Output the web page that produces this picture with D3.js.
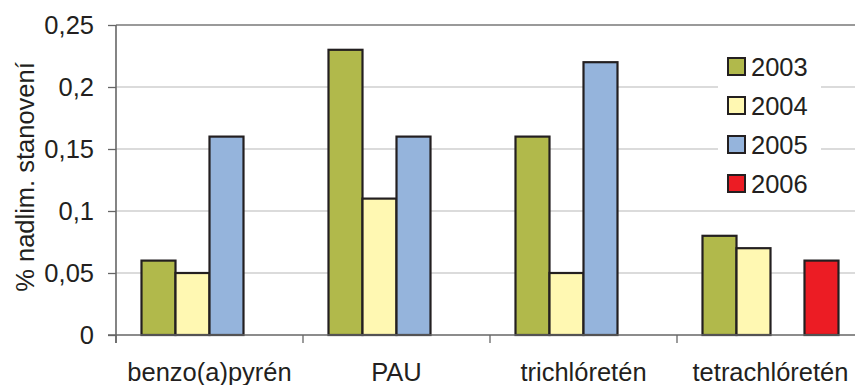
<!DOCTYPE html>
<html>
<head>
<meta charset="utf-8">
<script src="https://cdn.jsdelivr.net/npm/d3@7"></script>
<style>
  html, body { margin: 0; padding: 0; background: #fff; }
  svg { display: block; }
  text { font-family: "Liberation Sans", Arial, sans-serif; fill: #231f20; }
</style>
</head>
<body>
<svg id="chart" width="855" height="385"></svg>
<script>
const categories = ["benzo(a)pyrén", "PAU", "trichlóretén", "tetrachlóretén"];
const years = ["2003", "2004", "2005", "2006"];
const values2003 = [0.06, 0.23, 0.16, 0.08];
const values2004 = [0.05, 0.11, 0.05, 0.07];
const values2005 = [0.16, 0.16, 0.22, null];
const values2006 = [null, null, null, 0.06];
const yTicks = [0, 0.05, 0.1, 0.15, 0.2, 0.25];
const yTickLabels = ["0", "0,05", "0,1", "0,15", "0,2", "0,25"];
const colors = ["#b1b94b", "#fff8b2", "#95b4dc", "#ec1c24"];
const yTitle = "% nadlim. stanovení";

const seriesValues = [values2003, values2004, values2005, values2006];

const svg = d3.select("#chart");
const mLeft = 116, mRight = 864, mTop = 25, mBottom = 335;

const x0 = d3.scaleBand().domain(categories).range([mLeft, mRight]).padding(0);
const x1 = d3.scaleBand().domain(years).range([0, x0.bandwidth()]).paddingInner(0).paddingOuter(0.75);
const y = d3.scaleLinear().domain([0, 0.25]).range([mBottom, mTop]);

// gridlines
svg.append("g").selectAll("line").data(yTicks.filter(t => t > 0 && t < 0.25)).join("line")
  .attr("x1", mLeft).attr("x2", 855)
  .attr("y1", d => y(d)).attr("y2", d => y(d))
  .attr("stroke", "#cfcfcf").attr("stroke-width", 1.5);

// top frame line
svg.append("line").attr("x1", mLeft).attr("x2", 855).attr("y1", y(0.25)).attr("y2", y(0.25))
  .attr("stroke", "#9a9a9a").attr("stroke-width", 2);

// bars
const groups = svg.append("g").selectAll("g").data(categories).join("g")
  .attr("transform", d => `translate(${x0(d)},0)`);
groups.selectAll("rect")
  .data((c, ci) => years.map((yr, si) => ({ yr, si, v: seriesValues[si][ci] })).filter(d => d.v != null))
  .join("rect")
  .attr("x", d => x1(d.yr))
  .attr("width", x1.bandwidth())
  .attr("y", d => y(d.v))
  .attr("height", d => y(0) - y(d.v))
  .attr("fill", d => colors[d.si])
  .attr("stroke", "#231f20").attr("stroke-width", 2.2);

// y axis
const yAxis = d3.axisLeft(y).tickValues(yTicks).tickFormat((d, i) => yTickLabels[i]).tickSize(8).tickPadding(14);
const gy = svg.append("g").attr("transform", `translate(${mLeft},0)`).call(yAxis);
gy.select(".domain").attr("stroke", "#666").attr("stroke-width", 1.6).attr("d", `M0,${mTop}V${mBottom + 8}`);
gy.selectAll(".tick line").attr("stroke", "#666").attr("stroke-width", 1.3);
gy.selectAll(".tick text").style("font-size", "25.5px").attr("fill", "#231f20")
  .style("font-family", '"Liberation Sans", Arial, sans-serif');

// x axis
const xAxis = d3.axisBottom(x0).tickSize(0).tickFormat("");
const gx = svg.append("g").attr("transform", `translate(0,${mBottom})`).call(xAxis);
gx.select(".domain").attr("stroke", "#666").attr("stroke-width", 1.6).attr("d", `M${mLeft - 8},0H855`);
gx.selectAll(".tick").remove();
const boundaries = categories.map(c => x0(c));
gx.selectAll("line.sep").data(boundaries).join("line").attr("class", "sep")
  .attr("x1", d => d).attr("x2", d => d).attr("y1", 0).attr("y2", 8)
  .attr("stroke", "#666").attr("stroke-width", 1.3);
svg.append("g").selectAll("text").data(categories).join("text")
  .attr("x", d => x0(d) + x0.bandwidth() / 2)
  .attr("y", 381)
  .attr("text-anchor", "middle")
  .style("font-size", "25.5px")
  .text(d => d);

// y title
svg.append("text")
  .attr("transform", `translate(34,${(mTop + mBottom) / 2 - 3}) rotate(-90)`)
  .attr("text-anchor", "middle")
  .style("font-size", "25.5px")
  .text(yTitle);

// legend
const lg = svg.append("g");
lg.append("rect").attr("x", 718).attr("y", 45).attr("width", 103).attr("height", 160).attr("fill", "#fff");
const items = lg.selectAll("g").data(years).join("g")
  .attr("transform", (d, i) => `translate(728,${58 + i * 39})`);
items.append("rect").attr("width", 17).attr("height", 17)
  .attr("fill", (d, i) => colors[i]).attr("stroke", "#231f20").attr("stroke-width", 2);
items.append("text").attr("x", 23).attr("y", 17.5).style("font-size", "25.5px").text(d => d);
</script>
</body>
</html>
